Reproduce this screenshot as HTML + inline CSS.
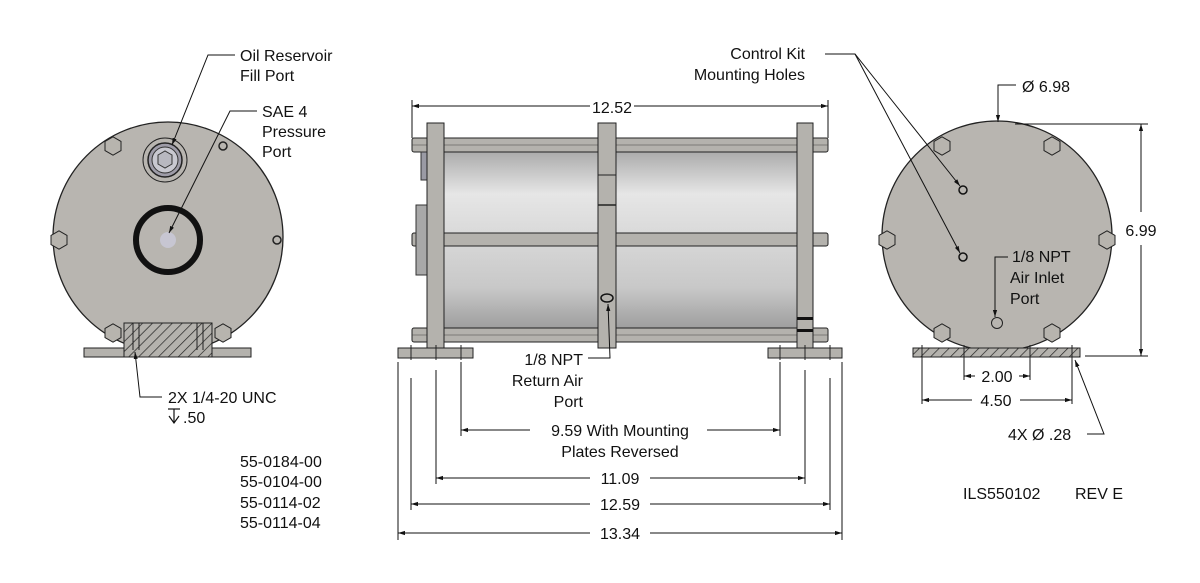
<!DOCTYPE html>
<html><head><meta charset="utf-8"><style>
html,body{margin:0;padding:0;background:#fff;}
svg{display:block;font-family:"Liberation Sans",sans-serif;}
text{fill:#111;font-size:16px;}
</style></head><body>
<svg width="1200" height="583" viewBox="0 0 1200 583" xmlns="http://www.w3.org/2000/svg">
<defs>
<marker id="a" viewBox="0 0 10 10" refX="10" refY="5" markerWidth="7" markerHeight="7" orient="auto-start-reverse"><path d="M0,2 L10,5 L0,8 z" fill="#111"/></marker>
<pattern id="h" width="7" height="7" patternUnits="userSpaceOnUse" patternTransform="rotate(45)"><rect width="7" height="7" fill="#b4b2ad"/><line x1="0" y1="0" x2="0" y2="7" stroke="#222" stroke-width="1.4"/></pattern>
<linearGradient id="g1" x1="0" y1="0" x2="0" y2="1"><stop offset="0" stop-color="#a9a9a9"/><stop offset="0.5" stop-color="#e6e6e6"/><stop offset="1" stop-color="#d8d8d8"/></linearGradient>
<linearGradient id="g2" x1="0" y1="0" x2="0" y2="1"><stop offset="0" stop-color="#d6d6d6"/><stop offset="0.5" stop-color="#c8c8c8"/><stop offset="1" stop-color="#9a9a9a"/></linearGradient>
<polygon id="hex" points="-8,-4.6 0,-9.2 8,-4.6 8,4.6 0,9.2 -8,4.6" fill="#b7b4ae" stroke="#222" stroke-width="1"/>
</defs>

<!-- LEFT VIEW -->
<circle cx="168" cy="237" r="115" fill="#b8b5b0" stroke="#222" stroke-width="1.3"/>
<use href="#hex" x="113" y="146"/><use href="#hex" x="113" y="333"/><use href="#hex" x="59" y="240"/><use href="#hex" x="223" y="333"/>
<circle cx="223" cy="146" r="4" fill="none" stroke="#222" stroke-width="1.5"/>
<circle cx="277" cy="240" r="4" fill="none" stroke="#222" stroke-width="1.5"/>
<circle cx="165" cy="160" r="22" fill="#b8b5b0" stroke="#222" stroke-width="1"/>
<circle cx="165" cy="160" r="17" fill="#9e9ca8" stroke="#222" stroke-width="1.5"/>
<circle cx="165" cy="160" r="13" fill="#c8c8d0" stroke="#333" stroke-width="1"/>
<polygon points="158,155 165,151 172,155 172,164 165,168 158,164" fill="#b8b8c0" stroke="#333"/>
<circle cx="168" cy="240" r="32" fill="none" stroke="#111" stroke-width="6"/>
<circle cx="168" cy="240" r="8" fill="#c7c6d2"/>
<rect x="84" y="348" width="167" height="9" fill="#b4b2ad" stroke="#222"/>
<rect x="124" y="323" width="88" height="34" fill="url(#h)" stroke="#222"/>
<line x1="133" y1="323" x2="133" y2="350" stroke="#222"/><line x1="139" y1="323" x2="139" y2="350" stroke="#222"/>
<line x1="197" y1="323" x2="197" y2="350" stroke="#222"/><line x1="203" y1="323" x2="203" y2="350" stroke="#222"/>
<polyline points="235,55 208,55 172,145" fill="none" stroke="#111" marker-end="url(#a)"/>
<text x="240" y="61">Oil Reservoir</text><text x="240" y="81">Fill Port</text>
<polyline points="257,111 230,111 169,233" fill="none" stroke="#111" marker-end="url(#a)"/>
<text x="262" y="117">SAE 4</text><text x="262" y="137">Pressure</text><text x="262" y="157">Port</text>
<polyline points="162,397 140,397 135,352" fill="none" stroke="#111" marker-end="url(#a)"/>
<text x="168" y="403">2X 1/4-20 UNC</text>
<g stroke="#111" stroke-width="1.2" fill="none"><line x1="168" y1="409" x2="180" y2="409"/><line x1="174" y1="409" x2="174" y2="423"/><polyline points="169,416 174,423 179,416"/></g>
<text x="183" y="423">.50</text>
<text x="240" y="467">55-0184-00</text><text x="240" y="487">55-0104-00</text><text x="240" y="508">55-0114-02</text><text x="240" y="528">55-0114-04</text>

<!-- MIDDLE VIEW -->
<rect x="443" y="150" width="354" height="88" fill="url(#g1)"/>
<rect x="443" y="244" width="354" height="88" fill="url(#g2)"/>
<rect x="412" y="138" width="416" height="14" rx="2" fill="#b4b2ad" stroke="#222"/>
<line x1="412" y1="145" x2="828" y2="145" stroke="#444" stroke-width="0.6"/>
<rect x="412" y="233" width="416" height="13" rx="2" fill="#b4b2ad" stroke="#222"/>
<rect x="412" y="328" width="416" height="14" rx="2" fill="#b4b2ad" stroke="#222"/>
<line x1="412" y1="335" x2="828" y2="335" stroke="#444" stroke-width="0.6"/>
<rect x="416" y="205" width="11" height="70" fill="#a8a8a8" stroke="#333"/>
<rect x="421" y="152" width="6" height="28" fill="#9a9aa4" stroke="#333"/>
<rect x="427" y="123" width="17" height="225" fill="#b4b2ad" stroke="#222"/>
<rect x="598" y="123" width="18" height="225" fill="#b4b2ad" stroke="#222"/>
<line x1="598" y1="175" x2="616" y2="175" stroke="#222"/><line x1="598" y1="205" x2="616" y2="205" stroke="#222" stroke-width="1.5"/>
<rect x="797" y="123" width="16" height="225" fill="#b4b2ad" stroke="#222"/>
<rect x="797" y="317" width="16" height="3" fill="#111"/><rect x="797" y="329" width="16" height="3" fill="#111"/>
<ellipse cx="607" cy="298" rx="6" ry="4" fill="none" stroke="#111" stroke-width="1.5"/>
<rect x="398" y="348" width="75" height="10" fill="#b4b2ad" stroke="#222"/>
<rect x="768" y="348" width="74" height="10" fill="#b4b2ad" stroke="#222"/>
<g stroke="#222" stroke-width="1">
<line x1="411" y1="345" x2="411" y2="360"/><line x1="436" y1="345" x2="436" y2="360"/><line x1="461" y1="345" x2="461" y2="360"/>
<line x1="780" y1="345" x2="780" y2="360"/><line x1="805" y1="345" x2="805" y2="360"/><line x1="830" y1="345" x2="830" y2="360"/>
</g>
<line x1="412" y1="106" x2="590" y2="106" stroke="#111" marker-start="url(#a)"/>
<line x1="634" y1="106" x2="828" y2="106" stroke="#111" marker-end="url(#a)"/>
<line x1="412" y1="100" x2="412" y2="138" stroke="#111"/><line x1="828" y1="100" x2="828" y2="138" stroke="#111"/>
<text x="612" y="113" text-anchor="middle" font-size="17">12.52</text>
<polyline points="588,358 610,358 608,304" fill="none" stroke="#111" marker-end="url(#a)"/>
<text x="583" y="365" text-anchor="end">1/8 NPT</text>
<text x="583" y="386" text-anchor="end">Return Air</text>
<text x="583" y="407" text-anchor="end">Port</text>
<g stroke="#111" fill="none">
<line x1="398" y1="362" x2="398" y2="540"/><line x1="842" y1="362" x2="842" y2="540"/>
<line x1="411" y1="378" x2="411" y2="510"/><line x1="830" y1="378" x2="830" y2="510"/>
<line x1="436" y1="370" x2="436" y2="484"/><line x1="805" y1="370" x2="805" y2="484"/>
<line x1="461" y1="362" x2="461" y2="436"/><line x1="780" y1="362" x2="780" y2="436"/>
<line x1="461" y1="430" x2="530" y2="430" marker-start="url(#a)"/><line x1="707" y1="430" x2="780" y2="430" marker-end="url(#a)"/>
<line x1="436" y1="478" x2="590" y2="478" marker-start="url(#a)"/><line x1="650" y1="478" x2="805" y2="478" marker-end="url(#a)"/>
<line x1="411" y1="504" x2="590" y2="504" marker-start="url(#a)"/><line x1="650" y1="504" x2="830" y2="504" marker-end="url(#a)"/>
<line x1="398" y1="533" x2="590" y2="533" marker-start="url(#a)"/><line x1="650" y1="533" x2="842" y2="533" marker-end="url(#a)"/>
</g>
<text x="620" y="436" text-anchor="middle">9.59 With Mounting</text>
<text x="620" y="457" text-anchor="middle">Plates Reversed</text>
<text x="620" y="484" text-anchor="middle" font-size="17">11.09</text>
<text x="620" y="510" text-anchor="middle" font-size="17">12.59</text>
<text x="620" y="539" text-anchor="middle" font-size="17">13.34</text>

<!-- RIGHT VIEW -->
<circle cx="997" cy="236" r="115" fill="#b8b5b0" stroke="#222" stroke-width="1.3"/>
<use href="#hex" x="942" y="146"/><use href="#hex" x="1052" y="146"/><use href="#hex" x="887" y="240"/><use href="#hex" x="1107" y="240"/><use href="#hex" x="942" y="333"/><use href="#hex" x="1052" y="333"/>
<circle cx="963" cy="190" r="4" fill="none" stroke="#111" stroke-width="1.5"/>
<circle cx="963" cy="257" r="4" fill="none" stroke="#111" stroke-width="1.5"/>
<circle cx="997" cy="323" r="5.5" fill="none" stroke="#222" stroke-width="1"/>
<rect x="913" y="348" width="167" height="9" fill="url(#h)" stroke="#222"/>
<g stroke="#222"><line x1="922" y1="345" x2="922" y2="360"/><line x1="964" y1="345" x2="964" y2="360"/><line x1="1030" y1="345" x2="1030" y2="360"/><line x1="1072" y1="345" x2="1072" y2="360"/></g>
<polyline points="825,54 855,54 960,186" fill="none" stroke="#111" marker-end="url(#a)"/>
<line x1="855" y1="54" x2="960" y2="253" stroke="#111" marker-end="url(#a)"/>
<text x="805" y="59" text-anchor="end">Control Kit</text>
<text x="805" y="80" text-anchor="end">Mounting Holes</text>
<polyline points="1016,85 998,85 998,122" fill="none" stroke="#111" marker-end="url(#a)"/>
<text x="1022" y="92" font-size="17">Ø 6.98</text>
<line x1="1015" y1="124" x2="1148" y2="124" stroke="#111"/>
<line x1="1085" y1="356" x2="1148" y2="356" stroke="#111"/>
<line x1="1141" y1="124" x2="1141" y2="212" stroke="#111" marker-start="url(#a)"/>
<line x1="1141" y1="245" x2="1141" y2="356" stroke="#111" marker-end="url(#a)"/>
<text x="1141" y="236" text-anchor="middle" font-size="17">6.99</text>
<polyline points="1008,257 995,257 995,317" fill="none" stroke="#111" marker-end="url(#a)"/>
<text x="1012" y="262">1/8 NPT</text><text x="1010" y="283">Air Inlet</text><text x="1010" y="304">Port</text>
<g stroke="#111" fill="none">
<line x1="922" y1="360" x2="922" y2="404"/><line x1="1072" y1="360" x2="1072" y2="404"/>
<line x1="964" y1="360" x2="964" y2="380"/><line x1="1030" y1="360" x2="1030" y2="380"/>
<line x1="964" y1="376" x2="975" y2="376" marker-start="url(#a)"/><line x1="1019" y1="376" x2="1030" y2="376" marker-end="url(#a)"/>
<line x1="922" y1="400" x2="972" y2="400" marker-start="url(#a)"/><line x1="1020" y1="400" x2="1072" y2="400" marker-end="url(#a)"/>
<polyline points="1087,434 1104,434 1075,360" marker-end="url(#a)"/>
</g>
<text x="997" y="382" text-anchor="middle" font-size="17">2.00</text>
<text x="996" y="406" text-anchor="middle" font-size="17">4.50</text>
<text x="1008" y="440" font-size="17">4X Ø .28</text>
<text x="963" y="499">ILS550102</text>
<text x="1075" y="499">REV E</text>
</svg>
</body></html>
